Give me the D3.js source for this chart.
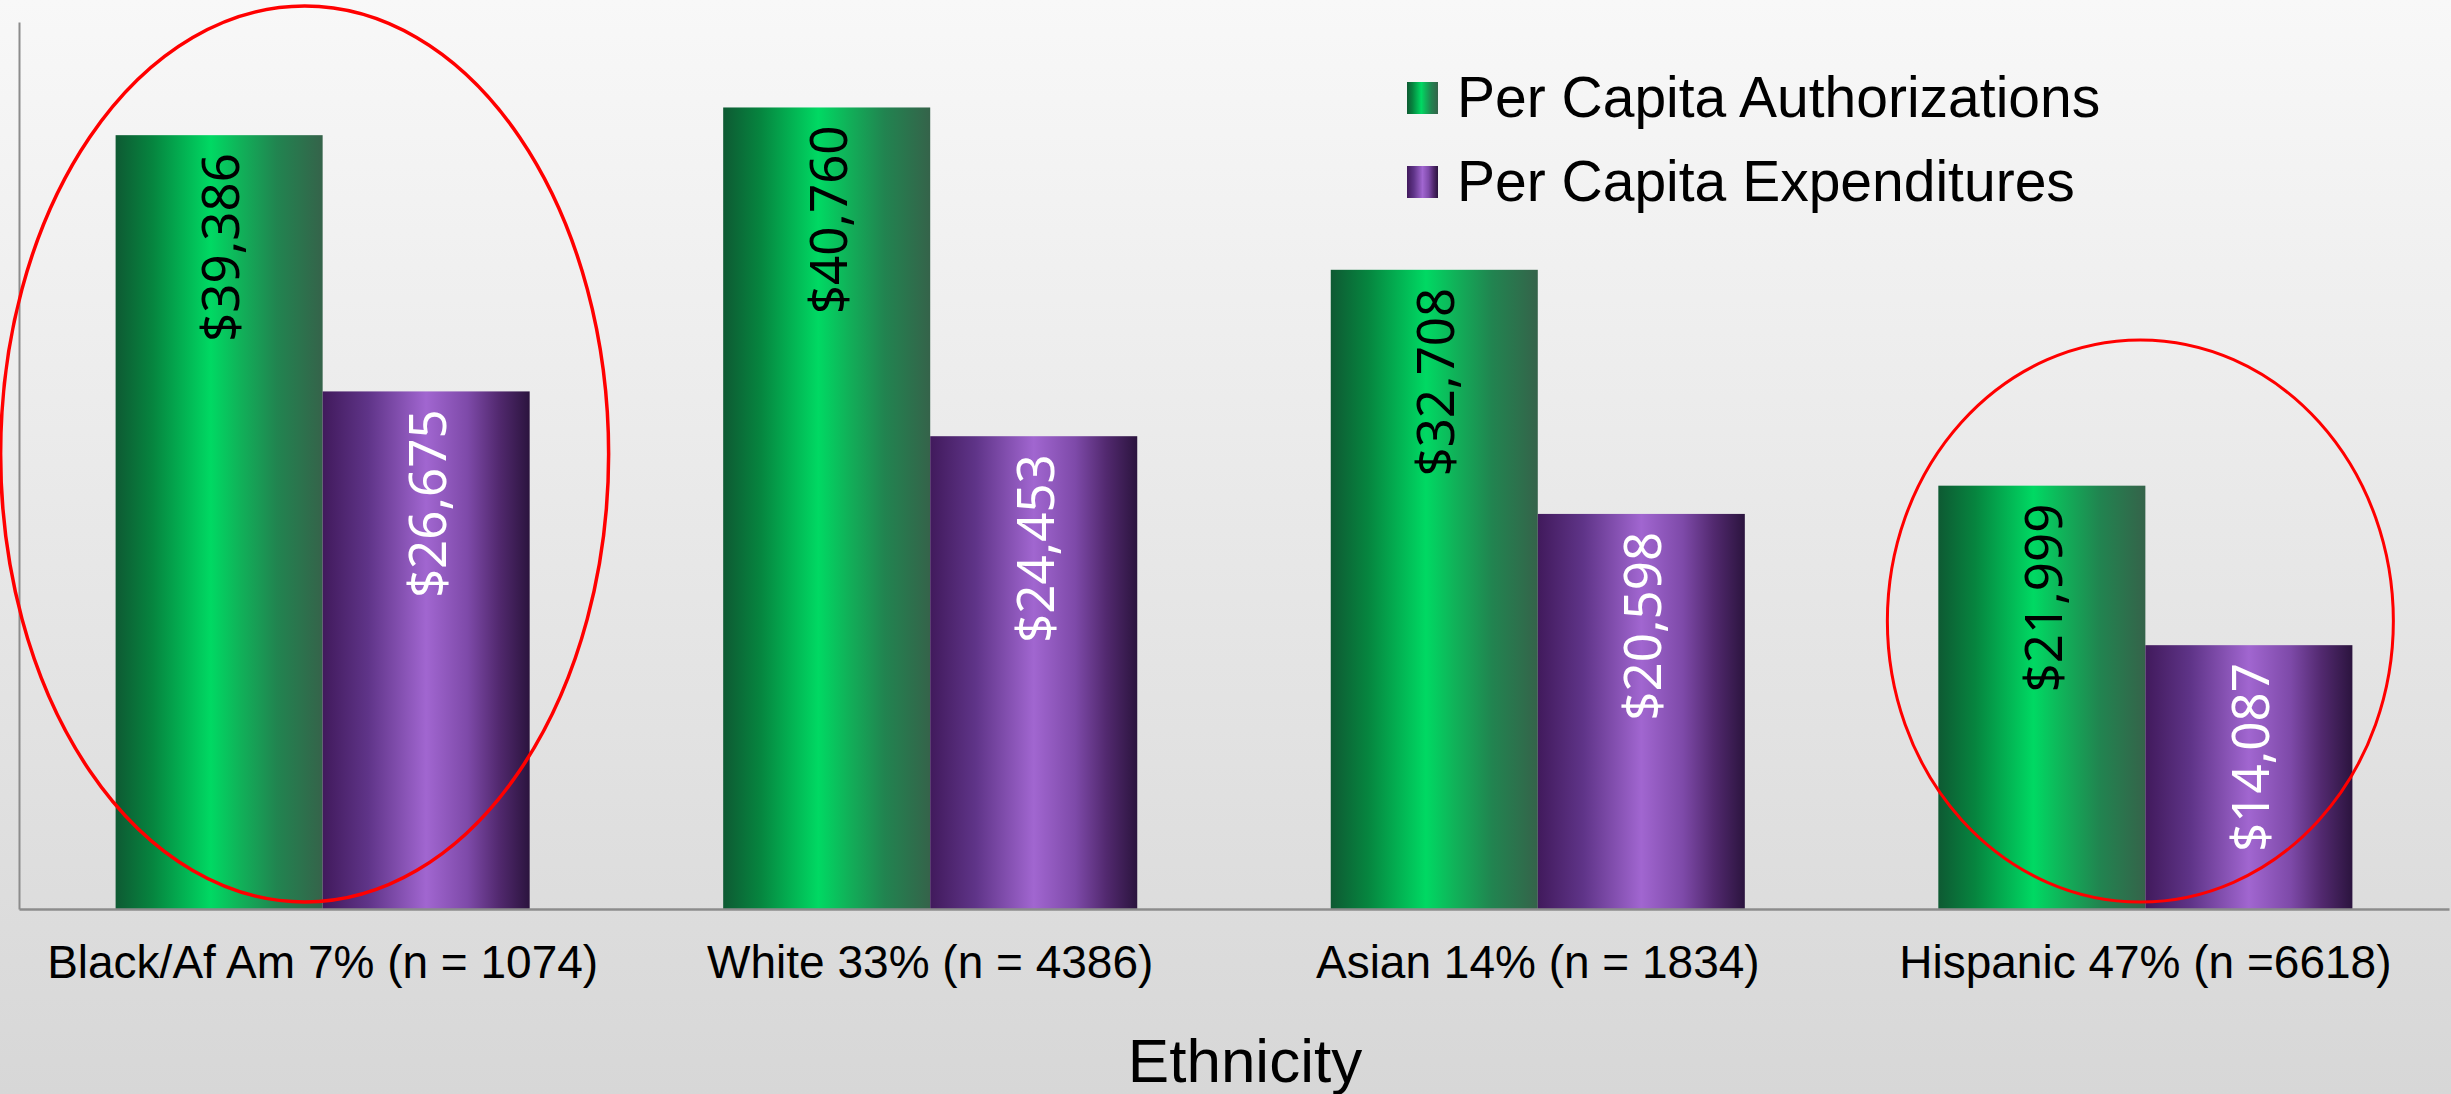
<!DOCTYPE html>
<html>
<head>
<meta charset="utf-8">
<script src="https://cdn.jsdelivr.net/npm/d3@7"></script>
<style>
  html, body { margin: 0; padding: 0; overflow: hidden; }
  svg { display: block; }
</style>
</head>
<body>
<svg id="chart" width="2451" height="1094"></svg>
<script>
// ---- data ----
const categories = ["Black/Af Am 7% (n = 1074)", "White 33% (n = 4386)", "Asian 14% (n = 1834)", "Hispanic 47% (n =6618)"];
const seriesNames = ["Per Capita Authorizations", "Per Capita Expenditures"];
const authorizations = [39386, 40760, 32708, 21999];
const expenditures = [26675, 24453, 20598, 14087];
const highlighted = ["Black/Af Am 7% (n = 1074)", "Hispanic 47% (n =6618)"];
const axisTitle = "Ethnicity";
const yDomain = [1000, 45000];

// ---- layout ----
const W = 2451, H = 1094;
const plot = { left: 19, right: 2449, top: 22, bottom: 909 };

const svg = d3.select("#chart");
const defs = svg.append("defs");

// background gradient
const bg = defs.append("linearGradient").attr("id", "bg").attr("x1", 0).attr("y1", 0).attr("x2", 0).attr("y2", 1);
bg.append("stop").attr("offset", "0%").attr("stop-color", "#f8f8f8");
bg.append("stop").attr("offset", "100%").attr("stop-color", "#d7d7d7");
svg.append("rect").attr("width", W).attr("height", H).attr("fill", "url(#bg)");

// bar gradients
function hGrad(id, stops) {
  const g = defs.append("linearGradient").attr("id", id).attr("x1", 0).attr("y1", 0).attr("x2", 1).attr("y2", 0);
  stops.forEach(s => g.append("stop").attr("offset", s[0]).attr("stop-color", s[1]));
}
hGrad("gGreen", [[0, "#0e5a33"], [0.18, "#06853f"], [0.46, "#00d963"], [0.6, "#10b259"], [0.78, "#218450"], [1, "#35634a"]]);
hGrad("gPurple", [[0, "#411a5c"], [0.22, "#5f3488"], [0.5, "#a166d0"], [0.7, "#7e4aa9"], [0.85, "#52296f"], [1, "#2b143e"]]);
const fills = ["url(#gGreen)", "url(#gPurple)"];
const labelColors = ["#000000", "#ffffff"];

// scales
const x0 = d3.scaleBand().domain(categories).range([plot.left, plot.right]).paddingInner(0.3185).paddingOuter(0.159);
const x1 = d3.scaleBand().domain(seriesNames).range([0, x0.bandwidth()]).padding(0);
const y = d3.scaleLinear().domain(yDomain).range([plot.bottom, plot.top]);

const rows = categories.map((c, i) => ({ cat: c, vals: [authorizations[i], expenditures[i]] }));

// bars
const groups = svg.append("g").selectAll("g").data(rows).join("g")
  .attr("transform", d => `translate(${x0(d.cat)},0)`);

groups.selectAll("rect").data(d => d.vals.map((v, j) => ({ s: seriesNames[j], v, j })))
  .join("rect")
  .attr("x", d => x1(d.s))
  .attr("y", d => y(d.v))
  .attr("width", x1.bandwidth())
  .attr("height", d => y(yDomain[0]) - y(d.v))
  .attr("fill", d => fills[d.j]);

// value labels (rotated, inside top)
const fmt = d3.format("$,");
groups.selectAll("text.val").data(d => d.vals.map((v, j) => ({ s: seriesNames[j], v, j })))
  .join("text")
  .attr("class", "val")
  .attr("transform", d => `translate(${x1(d.s) + x1.bandwidth() / 2},${y(d.v) + 18}) rotate(-90)`)
  .attr("text-anchor", "end")
  .attr("dominant-baseline", "central")
  .attr("font-family", "'Noto Sans', sans-serif")
  .attr("font-size", 51)
  .attr("fill", d => labelColors[d.j])
  .text(d => fmt(d.v));

// axes lines
const axisG = svg.append("g");
const yAxis = d3.axisLeft(y).tickValues([]).tickSizeOuter(0);
axisG.append("g").attr("transform", `translate(${plot.left},0)`).call(yAxis)
  .call(g => g.select(".domain").attr("stroke", "#8c8c8c").attr("stroke-width", 2));
const xAxis = d3.axisBottom(x0).tickSize(0).tickSizeOuter(0).tickPadding(0);
const xg = axisG.append("g").attr("transform", `translate(0,${plot.bottom})`).call(xAxis);
xg.select(".domain").attr("stroke", "#8c8c8c").attr("stroke-width", 2.5);
xg.selectAll(".tick text")
  .attr("dy", null)
  .attr("y", 69)
  .attr("font-family", "'Liberation Sans', Arial, sans-serif")
  .attr("font-size", 46)
  .attr("fill", "#000");

// axis title
svg.append("text")
  .attr("x", 1245).attr("y", 1082)
  .attr("text-anchor", "middle")
  .attr("font-family", "'Liberation Sans', Arial, sans-serif")
  .attr("font-size", 62)
  .attr("fill", "#000")
  .text(axisTitle);

// legend
const legend = svg.append("g").attr("transform", "translate(1407,82)");
const li = legend.selectAll("g").data(seriesNames).join("g")
  .attr("transform", (d, i) => `translate(0,${i * 84})`);
li.append("rect").attr("width", 31).attr("height", 32).attr("fill", (d, i) => fills[i]);
li.append("text")
  .attr("x", 50).attr("y", 35)
  .attr("font-family", "'Liberation Sans', Arial, sans-serif")
  .attr("font-size", 57)
  .attr("fill", "#000")
  .text(d => d);

// highlight ellipses (annotations around selected categories)
const ellipses = [
  { cat: highlighted[0], dx: -18, cy: 454, rx: 304, ry: 448, w: 3.5 },
  { cat: highlighted[1], dx: -5, cy: 621, rx: 253, ry: 281, w: 3 }
];
svg.append("g").selectAll("ellipse").data(ellipses).join("ellipse")
  .attr("cx", d => x0(d.cat) + x0.bandwidth() / 2 + d.dx)
  .attr("cy", d => d.cy)
  .attr("rx", d => d.rx)
  .attr("ry", d => d.ry)
  .attr("fill", "none")
  .attr("stroke", "#ff0000")
  .attr("stroke-width", d => d.w);
</script>
</body>
</html>
